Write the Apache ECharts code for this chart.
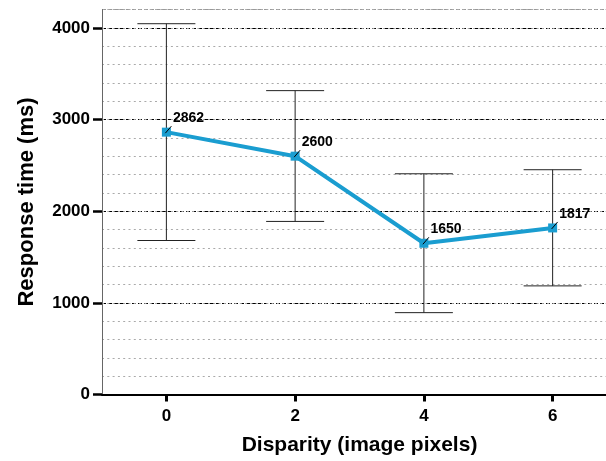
<!DOCTYPE html>
<html><head><meta charset="utf-8">
<script src="https://cdn.jsdelivr.net/npm/echarts@6/dist/echarts.min.js"></script>
<style>html,body{margin:0;padding:0;background:#fff}#c{width:606px;height:461px}</style>
</head><body><div id="c"></div>
<script>
const categories = ['0', '2', '4', '6'];
const meanRT = [2862, 2600, 1650, 1817];
const errLow = [1680, 1888, 893, 1185];
const errHigh = [4045, 3315, 2408, 2452];
const yTickLabels = [0, 1000, 2000, 3000, 4000];
const xName = 'Disparity (image pixels)';
const yName = 'Response time (ms)';

const FONT = "'Liberation Sans', Arial, Helvetica, sans-serif";
const BLUE = '#1a9dd0';

const chart = echarts.init(document.getElementById('c'), null, {renderer: 'canvas'});

const errData = categories.map((c, i) => [i, errLow[i], errHigh[i]]);
const leaderData = categories.map((c, i) => [i, meanRT[i]]);

chart.setOption({
  animation: false,
  backgroundColor: '#fff',
  grid: {left: 102, width: 515, top: 9.5, bottom: 66.5, containLabel: false, outerBoundsMode: 'none'},
  xAxis: {
    type: 'category',
    data: categories,
    boundaryGap: true,
    name: xName,
    nameLocation: 'middle',
    nameGap: 40,
    nameTextStyle: {fontFamily: FONT, fontWeight: 'bold', fontSize: 21, color: '#000'},
    axisLine: {show: true, lineStyle: {color: '#000', width: 2}},
    axisTick: {show: true, alignWithLabel: true, length: 7, lineStyle: {color: '#000', width: 3}},
    axisLabel: {fontFamily: FONT, fontWeight: 'bold', fontSize: 17, color: '#000', margin: 13},
    splitLine: {show: false}
  },
  yAxis: [{
    type: 'value',
    min: 0, max: 4200, interval: 1000,
    name: yName,
    nameLocation: 'middle',
    nameGap: 64,
    nameTextStyle: {fontFamily: FONT, fontWeight: 'bold', fontSize: 22, color: '#000'},
    axisLine: {show: true, onZero: false, lineStyle: {color: '#666', width: 1}},
    axisTick: {show: true, length: 9, lineStyle: {color: '#000', width: 2.5}},
    axisLabel: {
      fontFamily: FONT, fontWeight: 'bold', fontSize: 17, color: '#000', margin: 12,
      showMaxLabel: false,
      formatter: v => yTickLabels.indexOf(v) >= 0 ? String(v) : ''
    },
    splitLine: {show: true, lineStyle: {color: ['#000', '#000', '#000', '#000', '#000', '#999'], width: 1, type: [4, 2]}}
  }, {
    type: 'value',
    min: 0, max: 4200, interval: 200,
    position: 'left',
    axisLine: {show: false},
    axisTick: {show: false},
    axisLabel: {show: false},
    splitLine: {show: true, lineStyle: {color: '#aaa', width: 1, type: [2, 3.3]}}
  }],
  series: [{
    type: 'custom',
    name: 'error',
    yAxisIndex: 0,
    z: 2,
    data: errData,
    renderItem: (params, api) => {
      const x = api.value(0);
      const lo = api.coord([x, api.value(1)]);
      const hi = api.coord([x, api.value(2)]);
      const hw = 29;
      const st = {stroke: '#222', lineWidth: 1};
      return {type: 'group', children: [
        {type: 'line', shape: {x1: lo[0], y1: lo[1], x2: hi[0], y2: hi[1]}, style: st},
        {type: 'line', shape: {x1: hi[0] - hw, y1: hi[1], x2: hi[0] + hw, y2: hi[1]}, style: st},
        {type: 'line', shape: {x1: lo[0] - hw, y1: lo[1], x2: lo[0] + hw, y2: lo[1]}, style: st}
      ]};
    }
  }, {
    type: 'line',
    name: 'mean',
    yAxisIndex: 0,
    z: 3,
    data: meanRT,
    symbol: 'rect',
    symbolSize: 9,
    lineStyle: {color: BLUE, width: 4},
    itemStyle: {color: BLUE},
    label: {
      show: true, position: 'right', distance: 2, offset: [0, -14],
      fontFamily: FONT, fontWeight: 'bold', fontSize: 14, color: '#000'
    }
  }, {
    type: 'custom',
    name: 'leader',
    yAxisIndex: 0,
    z: 4,
    data: leaderData,
    renderItem: (params, api) => {
      const p = api.coord([api.value(0), api.value(1)]);
      return {type: 'line', shape: {x1: p[0] - 1, y1: p[1] + 1, x2: p[0] + 5, y2: p[1] - 6},
        style: {stroke: '#000', lineWidth: 1}};
    }
  }]
});
</script>
</body></html>
